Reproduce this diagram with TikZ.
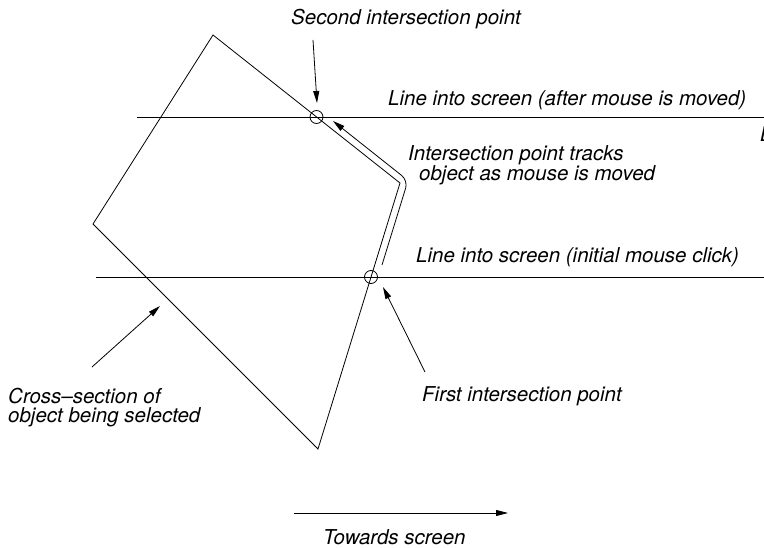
\documentclass[tikz,border=0pt]{standalone}
\usepackage{fontspec}
\setmainfont{TeX Gyre Heros}
\usetikzlibrary{arrows.meta}
\begin{document}
\begin{tikzpicture}[x=1pt,y=-1pt,
  ln/.style={line width=0.8pt},
  arr/.style={line width=0.8pt,-{Triangle[length=12pt,width=6pt]}},
  lbl/.style={inner sep=0pt,anchor=base west,font=\fontsize{20.5}{21}\selectfont\itshape,align=left},
  ring/.style={draw,circle,minimum size=13pt,inner sep=0pt,line width=0.8pt}]
\clip (0,0) rectangle (764,548);
% object cross-section
\coordinate (T) at (213,35);
\coordinate (Lf) at (93,224);
\coordinate (B) at (318,449);
\coordinate (R) at (400,183);
\draw[ln] (T) -- (Lf) -- (B) -- (R) -- cycle;
% lines into screen
\coordinate (h1a) at (137,117);
\coordinate (h1b) at (764,117);
\coordinate (h2a) at (96,277);
\coordinate (h2b) at (764,277);
\draw[ln] (h1a) -- (h1b);
\draw[ln] (h2a) -- (h2b);
% intersection points
\node[ring] (c2) at (316.5,117) {};
\node[ring] (c1) at (371,277) {};
% track
\coordinate (ts) at (382,265);
\coordinate (tc) at (408,180.5);
\coordinate (te) at (333,121);
\draw[arr,rounded corners=8pt] (ts) -- (tc) -- (te);
% labels
\node[lbl] (l2nd) at (291,25) {Second intersection point};
\node[lbl] (lafter) at (388,106) {Line into screen (after mouse is moved)};
\node[lbl] (ltrack) at (408,181) {Intersection point tracks\\[-0.5pt]\hspace{11pt}object as mouse is moved};
\node[lbl] (linit) at (416,263) {Line into screen (initial mouse click)};
\node[lbl] (l1st) at (422,402) {First intersection point};
\node[lbl] (lcross) at (8,422) {Cross–section of\\[-2pt]object being selected};
\node[lbl] (ltow) at (323,544) {Towards screen};
\node[lbl] (lcut) at (760,142) {L};
% pointer arrows
\coordinate (p2s) at (313,40);
\coordinate (p2e) at (317,103);
\draw[arr] (p2s) -- (p2e);
\coordinate (p1s) at (425,372);
\coordinate (p1e) at (383,287);
\draw[arr] (p1s) -- (p1e);
\coordinate (pcs) at (92,367);
\coordinate (pce) at (160,306);
\draw[arr] (pcs) -- (pce);
\coordinate (tws) at (294,513);
\coordinate (twe) at (508,513);
\draw[arr] (tws) -- (twe);
\end{tikzpicture}
\end{document}
